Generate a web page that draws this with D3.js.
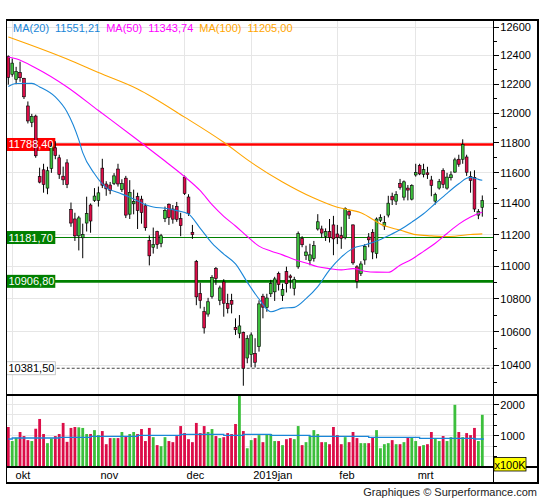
<!DOCTYPE html>
<html><head><meta charset="utf-8">
<script src="https://cdn.jsdelivr.net/npm/d3@7"></script>
<style>body{margin:0;background:#fff}svg{display:block}text{font-family:"Liberation Sans",Arial,sans-serif}</style>
</head><body><svg id="c" width="545" height="500"></svg>
<script>
const dates = ["2018-09-28",
"2018-10-01","2018-10-02","2018-10-04","2018-10-05","2018-10-08","2018-10-09","2018-10-10","2018-10-11","2018-10-12","2018-10-15","2018-10-16","2018-10-17","2018-10-18","2018-10-19","2018-10-22","2018-10-23","2018-10-24","2018-10-25","2018-10-26","2018-10-29","2018-10-30","2018-10-31",
"2018-11-01","2018-11-02","2018-11-05","2018-11-06","2018-11-07","2018-11-08","2018-11-09","2018-11-12","2018-11-13","2018-11-14","2018-11-15","2018-11-16","2018-11-19","2018-11-20","2018-11-21","2018-11-22","2018-11-23","2018-11-26","2018-11-27","2018-11-28","2018-11-29","2018-11-30",
"2018-12-03","2018-12-04","2018-12-05","2018-12-06","2018-12-07","2018-12-10","2018-12-11","2018-12-12","2018-12-13","2018-12-14","2018-12-17","2018-12-18","2018-12-19","2018-12-20","2018-12-21","2018-12-27","2018-12-28",
"2019-01-02","2019-01-03","2019-01-04","2019-01-07","2019-01-08","2019-01-09","2019-01-10","2019-01-11","2019-01-14","2019-01-15","2019-01-16","2019-01-17","2019-01-18","2019-01-21","2019-01-22","2019-01-23","2019-01-24","2019-01-25","2019-01-28","2019-01-29","2019-01-30","2019-01-31",
"2019-02-01","2019-02-04","2019-02-05","2019-02-06","2019-02-07","2019-02-08","2019-02-11","2019-02-12","2019-02-13","2019-02-14","2019-02-15","2019-02-18","2019-02-19","2019-02-20","2019-02-21","2019-02-22","2019-02-25","2019-02-26","2019-02-27","2019-02-28",
"2019-03-01","2019-03-04","2019-03-05","2019-03-06","2019-03-07","2019-03-08","2019-03-11","2019-03-12","2019-03-13","2019-03-14","2019-03-15","2019-03-18","2019-03-19","2019-03-20","2019-03-21","2019-03-22","2019-03-25","2019-03-26"];

const open = [12391,12268,12233,12279,12240,12049,11937,11980,11575,11620,
11500,11630,11766,11700,11578,11666,11361,11300,11192,11180,
11274,11390,11420,11420,11631,11527,11520,11531,11625,11490,
11565,11331,11398,11444,11428,11385,11163,11120,11220,11145,
11303,11395,11364,11381,11303,11572,11442,11215,11030,10832,
10721,10706,10814,10986,10790,10903,10770,10790,10625,10590,
10595,10442,10462,10470,10510,10815,10746,10830,10842,10956,
10820,10967,10940,10862,10997,11176,11067,11038,11049,11236,
11236,11189,11219,11262,11204,11195,11180,11347,11262,10997,
10956,11040,11185,11215,11080,11292,11255,11325,11447,11415,
11531,11441,11500,11428,11586,11648,11590,11600,11553,11415,
11500,11616,11500,11568,11605,11690,11690,11705,11575,11570,
11325,11375];

const high = [12400,12378,12320,12356,12243,12080,11995,11990,11634,11660,
11640,11800,11810,11720,11641,11690,11406,11340,11320,11270,
11444,11400,11500,11510,11693,11545,11540,11598,11660,11558,
11580,11552,11490,11470,11450,11400,11195,11245,11225,11205,
11380,11400,11390,11410,11340,11582,11460,11262,11040,10898,
10750,10805,10945,10996,10880,10920,10830,10830,10680,10700,
10600,10578,10595,10560,10790,10830,10830,10916,10935,10967,
10893,10998,10950,10935,11220,11190,11130,11142,11160,11331,
11257,11240,11300,11320,11262,11250,11375,11360,11265,11007,
11032,11140,11210,11235,11310,11330,11320,11450,11470,11480,
11560,11550,11520,11525,11660,11660,11660,11640,11580,11470,
11560,11630,11600,11610,11700,11720,11823,11720,11610,11617,
11364,11452];

const low = [12196,12251,12199,12216,12097,11930,11905,11700,11531,11470,
11460,11600,11690,11560,11520,11500,11250,11160,11100,11051,
11220,11212,11410,11380,11500,11450,11460,11520,11510,11475,
11306,11300,11330,11236,11270,11225,11006,11080,11110,11120,
11280,11262,11270,11282,11190,11455,11320,11173,10760,10740,
10588,10690,10800,10885,10760,10690,10710,10710,10580,10560,
10279,10411,10387,10386,10480,10680,10720,10810,10786,10850,
10786,10838,10862,10820,10985,11120,11040,11007,11030,11226,
11180,11160,11150,11070,11140,11110,11170,11300,11010,10864,
10940,11010,11120,11045,11050,11280,11230,11310,11390,11390,
11490,11420,11420,11420,11575,11585,11570,11560,11447,11393,
11490,11500,11490,11550,11600,11640,11660,11580,11470,11345,
11299,11315];

const close = [12247,12346,12288,12244,12112,11947,11977,11713,11539,11524,
11614,11777,11715,11589,11554,11524,11274,11192,11307,11201,
11335,11287,11448,11469,11519,11495,11484,11580,11527,11529,
11325,11472,11413,11354,11341,11244,11066,11138,11137,11193,
11355,11309,11299,11298,11257,11465,11335,11200,10811,10788,
10622,10781,10931,10925,10866,10772,10740,10766,10611,10634,
10382,10559,10580,10417,10768,10748,10804,10893,10922,10887,
10856,10892,10931,10919,11206,11136,11090,11072,11130,11282,
11210,11219,11182,11173,11181,11177,11368,11325,11022,10907,
11015,11126,11167,11090,11300,11309,11278,11402,11423,11458,
11505,11541,11487,11516,11602,11593,11621,11588,11518,11458,
11543,11524,11572,11587,11686,11657,11788,11604,11550,11364,
11347,11419];

// volume in units of 100K
const volume = [1280,830,935,1120,990,860,830,1225,1537,1055,
763,915,990,1055,1410,805,1250,1280,1270,1250,
1055,1055,1180,1020,1150,730,925,925,925,1120,
990,1055,1120,1055,1215,830,1250,955,700,665,
955,830,795,990,1310,1085,890,795,1410,1085,
1310,1120,1215,990,925,955,1085,1055,1375,2350,
1150,600,860,925,1020,795,1055,1055,830,830,
700,890,925,890,1310,700,795,990,1180,1055,
795,795,730,1280,1020,730,955,795,1120,925,
763,763,763,955,1180,600,730,763,860,730,
730,795,955,935,830,665,700,730,1120,925,
830,990,830,955,1990,1120,955,1085,1020,1250,
830,1670];

// moving averages: bar index -> value
const ma20Idx = [0,2,6,8,12,15,18,19,22,25,28,31,34,37,40,43,46,49,52,55,58,61,64,67,70,73,76,79,82,85,88,91,94,97,100,103,106,109,112,115,117,118,119,120,121];
const ma20Val = [12183,12204,12205,12180,12111,12008,11819,11734,11594,11503,11471,11441,11404,11377,11369,11354,11332,11240,11146,11077,11016,10902,10798,10720,10742,10747,10800,10874,10978,11058,11113,11134,11159,11193,11231,11280,11334,11400,11466,11528,11564,11570,11565,11557,11551.21];

const ma50Idx = [0,2,7,15,23,32,40,45,49,52,55,58,61,64,67,70,73,76,79,82,85,88,91,94,97,100,103,106,109,112,115,118,121];
const ma50Val = [12389,12376,12312,12180,12018,11839,11678,11575,11483,11392,11317,11255,11188,11127,11096,11072,11043,11021,10998,10986,10978,10986,10970,10964,10963,11007,11045,11094,11145,11207,11267,11313,11343.74];

const ma100Idx = [0,5,15,23,33,45,55,62,70,78,84,90,96,100,104,108,111,114,118,121];
const ma100Val = [12531,12481,12375,12280,12166,11973,11803,11669,11540,11435,11375,11340,11256,11229,11200,11192,11188,11190,11201,11205.00];

const volMaIdx = [0,1,13,21,33,44,55,60,67,77,92,105,119,121];
const volMaVal = [896,928,949,981,1013,1045,1013,1045,1013,981,949,917,896,896];

const priceTicks = [12600,12400,12200,12000,11800,11600,11400,11200,11000,10800,10600,10400];
const priceMinor = [12500,12300,12100,11900,11700,11500,11300,11100,10900,10700,10500,10300];
const volTicks = [1000,2000];
const volMinor = [333.33,666.67,1333.33,1666.67];

const monthDates = ["2018-10-01","2018-11-01","2018-12-03","2019-01-02","2019-02-01","2019-03-01"];
const monthLabels = ["okt","nov","dec","2019jan","feb","mrt"];

const levels = [11788.40, 11181.70, 10906.80, 10381.50];
const levelLabels = ["11788,40","11181,70","10906,80","10381,50"];

const legendNames = ["MA(20)","MA(50)","MA(100)"];
const legendValues = ["11551,21","11343,74","11205,00"];

// ---------- layout ----------
const svg = d3.select("#c");
const L = 6.7, R = 538, T = 20, AX = 493.3;
const pTop = 20, pBot = 395, vTop = 395, vBot = 467, dBot = 483;
const UP = "#3cbf3c", DOWN = "#dc0d48";
const C20 = "#1a86d8", C50 = "#ff00ff", C100 = "#ffa500";

const x = d3.scalePoint().domain(dates).range([8.3, 482.3]);
const y = d3.scaleLog().domain([10225, 12652]).range([pBot, pTop]);
const yv = d3.scaleLinear().domain([0, 2304]).range([vBot, vTop]);

const bars = dates.map((d, i) => ({d, o: open[i], h: high[i], l: low[i], c: close[i], v: volume[i]}));

svg.append("defs").append("clipPath").attr("id", "cp")
  .append("rect").attr("x", L).attr("y", pTop).attr("width", AX - L).attr("height", pBot - pTop);
svg.append("defs").append("clipPath").attr("id", "cv")
  .append("rect").attr("x", L).attr("y", vTop).attr("width", AX - L).attr("height", vBot - vTop);

// grid
const grid = svg.append("g").attr("stroke", "#e6e6e6").attr("stroke-width", 1).attr("shape-rendering", "crispEdges");
grid.selectAll("line.h").data(priceTicks).join("line")
  .attr("x1", L).attr("x2", AX).attr("y1", d => y(d)).attr("y2", d => y(d));
grid.selectAll("line.v").data(monthDates).join("line")
  .attr("x1", d => x(d)).attr("x2", d => x(d)).attr("y1", pTop).attr("y2", vBot);
grid.selectAll("line.vv").data(volTicks.concat(volMinor)).join("line")
  .attr("x1", L).attr("x2", AX).attr("y1", d => yv(d)).attr("y2", d => yv(d));

// level lines
const lvStyle = [
  {s: "#ff0000", w: 2.6, box: "#ff0000", tc: "#fff", dash: null},
  {s: "#008000", w: 1.2, box: "#008000", tc: "#fff", dash: null},
  {s: "#008000", w: 2.8, box: "#008000", tc: "#fff", dash: null},
  {s: "#444", w: 1, box: "#fff", tc: "#000", dash: "3,2"}
];
const lv = svg.append("g");
levels.forEach((v, i) => {
  lv.append("line").attr("x1", L).attr("x2", AX).attr("y1", y(v)).attr("y2", y(v))
    .attr("stroke", lvStyle[i].s).attr("stroke-width", lvStyle[i].w)
    .attr("stroke-dasharray", lvStyle[i].dash);
});

// candles
const cg = svg.append("g").attr("clip-path", "url(#cp)");
cg.selectAll("line").data(bars).join("line")
  .attr("x1", d => x(d.d)).attr("x2", d => x(d.d))
  .attr("y1", d => y(d.h)).attr("y2", d => y(d.l))
  .attr("stroke", "#000").attr("stroke-width", 1);
cg.selectAll("rect").data(bars).join("rect")
  .attr("x", d => x(d.d) - 1.4).attr("width", 2.8)
  .attr("y", d => y(Math.max(d.o, d.c)))
  .attr("height", d => Math.max(1, Math.abs(y(d.o) - y(d.c))))
  .attr("fill", d => d.c >= d.o ? UP : DOWN)
  .attr("stroke", "#000").attr("stroke-width", 0.6);

// moving averages
function maLine(idx, val, col, w) {
  const pts = idx.map((k, j) => [x(dates[k]), y(val[j])]);
  svg.append("path").attr("clip-path", "url(#cp)")
    .attr("d", d3.line().curve(d3.curveMonotoneX)(pts))
    .attr("fill", "none").attr("stroke", col).attr("stroke-width", w);
}
maLine(ma100Idx, ma100Val, C100, 1.1);
maLine(ma50Idx, ma50Val, C50, 1.1);
maLine(ma20Idx, ma20Val, C20, 1.1);

// level labels
levels.forEach((v, i) => {
  const yy = y(v);
  lv.append("rect").attr("x", L).attr("y", yy - 6.5).attr("width", 48.6).attr("height", 13)
    .attr("fill", lvStyle[i].box).attr("stroke", i === 3 ? "#bbb" : "none").attr("stroke-width", 0.8);
  svg.append("text").attr("x", L + 1.8).attr("y", yy + 4).attr("font-size", 11)
    .attr("fill", lvStyle[i].tc).text(levelLabels[i]);
});

// volume
const vg = svg.append("g").attr("clip-path", "url(#cv)");
vg.selectAll("rect").data(bars).join("rect")
  .attr("x", d => x(d.d) - 1.4).attr("width", 2.8)
  .attr("y", d => yv(Math.min(d.v, 2400)))
  .attr("height", d => vBot - yv(Math.min(d.v, 2400)))
  .attr("fill", d => d.c >= d.o ? UP : DOWN);
vg.append("path")
  .attr("d", d3.line().curve(d3.curveStepAfter)(volMaIdx.map((k, j) => [x(dates[k]) + (j === volMaIdx.length - 1 ? 1.5 : 0), yv(volMaVal[j])])))
  .attr("fill", "none").attr("stroke", C20).attr("stroke-width", 1.3);

// frame
const fr = svg.append("g").attr("stroke", "#000").attr("fill", "none").attr("shape-rendering", "crispEdges");
fr.append("rect").attr("x", L).attr("y", T).attr("width", R - L).attr("height", dBot - T).attr("stroke-width", 1.5);
fr.append("line").attr("x1", AX).attr("x2", AX).attr("y1", T).attr("y2", dBot).attr("stroke-width", 1);
fr.append("line").attr("x1", L).attr("x2", R).attr("y1", pBot).attr("y2", pBot).attr("stroke-width", 1.2);
fr.append("line").attr("x1", L).attr("x2", R).attr("y1", vBot).attr("y2", vBot).attr("stroke-width", 1.2);

// price axis
const ax = svg.append("g");
ax.selectAll("line.t").data(priceTicks).join("line")
  .attr("x1", AX).attr("x2", AX + 6).attr("y1", d => y(d)).attr("y2", d => y(d))
  .attr("stroke", "#000").attr("shape-rendering", "crispEdges");
ax.selectAll("line.m").data(priceMinor).join("line").attr("class", "m")
  .attr("x1", AX).attr("x2", AX + 3.5).attr("y1", d => y(d)).attr("y2", d => y(d))
  .attr("stroke", "#000").attr("shape-rendering", "crispEdges");
ax.selectAll("text.p").data(priceTicks).join("text").attr("class", "p")
  .attr("x", AX + 7).attr("y", d => y(d) + 4).attr("font-size", 11).attr("fill", "#000")
  .text(d => d);

// volume axis
ax.selectAll("line.vt").data(volTicks).join("line").attr("class", "vt")
  .attr("x1", AX).attr("x2", AX + 6).attr("y1", d => yv(d)).attr("y2", d => yv(d))
  .attr("stroke", "#000").attr("shape-rendering", "crispEdges");
ax.selectAll("line.vm").data(volMinor).join("line").attr("class", "vm")
  .attr("x1", AX).attr("x2", AX + 3.5).attr("y1", d => yv(d)).attr("y2", d => yv(d))
  .attr("stroke", "#000").attr("shape-rendering", "crispEdges");
ax.selectAll("text.v").data(volTicks).join("text").attr("class", "v")
  .attr("x", AX + 7).attr("y", d => yv(d) + 4).attr("font-size", 11).attr("fill", "#000")
  .text(d => d);
ax.append("rect").attr("x", AX + 0.7).attr("y", 457.5).attr("width", 32).attr("height", 13.5)
  .attr("fill", "#ffff00").attr("stroke", "#000").attr("stroke-width", 0.8);
ax.append("text").attr("x", AX + 16.7).attr("y", 468.5).attr("text-anchor", "middle")
  .attr("font-size", 11).attr("fill", "#000").text("x100K");

// month labels
svg.selectAll("text.mo").data(monthDates).join("text").attr("class", "mo")
  .attr("x", (d, i) => x(d) + (i === 0 ? 3.4 : 2)).attr("y", 478.5)
  .attr("font-size", 11).attr("fill", "#000").text((d, i) => monthLabels[i]);

// legend
const lg = svg.append("text").attr("x", 13).attr("y", 31.5).attr("font-size", 11);
const lcols = [C20, C50, C100];
legendNames.forEach((n, i) => {
  lg.append("tspan").attr("fill", lcols[i]).attr("dx", i === 0 ? 0 : 6).text(n);
  lg.append("tspan").attr("fill", lcols[i]).attr("dx", 6).text(legendValues[i]);
});

// footer
svg.append("text").attr("x", 537).attr("y", 495.5).attr("text-anchor", "end")
  .attr("font-size", 11).attr("fill", "#222").text("Graphiques © Surperformance.com");
</script>
</body></html>
